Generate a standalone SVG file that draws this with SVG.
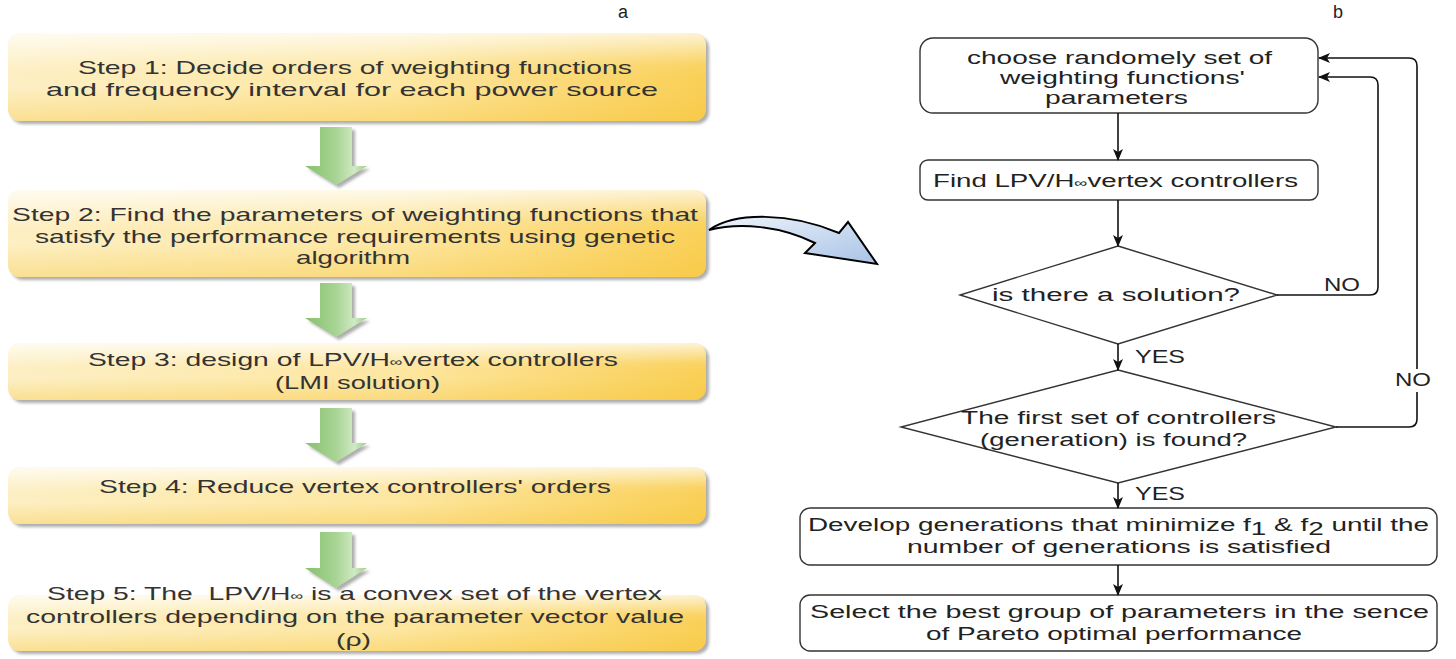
<svg xmlns="http://www.w3.org/2000/svg" width="1456" height="659" viewBox="0 0 1456 659">
<style>
.lt{font-family:"Liberation Sans",Arial,sans-serif;font-size:19px;fill:#333}
.rt{font-family:"Liberation Sans",Arial,sans-serif;font-size:18px;fill:#222}
.lbl{font-family:"Liberation Sans",Arial,sans-serif;font-size:18px;fill:#222}
.ybox{fill:url(#yg)}
.gloss{fill:url(#gl)}
.garrow{fill:url(#gg);filter:url(#sh)}
.rbox{fill:#fff;stroke:#333;stroke-width:1.4}
.conn{fill:none;stroke:#111;stroke-width:1.6}
</style>
<defs>
<linearGradient id="yg" x1="0" y1="0" x2="1" y2="0">
<stop offset="0" stop-color="#fdf0c6"/>
<stop offset="0.55" stop-color="#fde7a3"/>
<stop offset="1" stop-color="#f9cf55"/>
</linearGradient>
<linearGradient id="gl" x1="0" y1="0" x2="0" y2="1">
<stop offset="0" stop-color="#fff" stop-opacity="0.75"/>
<stop offset="0.35" stop-color="#fff" stop-opacity="0.1"/>
<stop offset="0.6" stop-color="#f6c235" stop-opacity="0"/>
<stop offset="1" stop-color="#f6c235" stop-opacity="0.35"/>
</linearGradient>
<linearGradient id="gg" x1="0" y1="0" x2="1" y2="0">
<stop offset="0" stop-color="#86c06c"/>
<stop offset="0.5" stop-color="#a8d494"/>
<stop offset="0.8" stop-color="#d0eac4"/>
<stop offset="1" stop-color="#9ccc85"/>
</linearGradient>
<linearGradient id="bg" x1="0" y1="0" x2="1" y2="1">
<stop offset="0" stop-color="#eef4fc"/>
<stop offset="1" stop-color="#a9c3e6"/>
</linearGradient>
<filter id="sh" x="-5%" y="-20%" width="115%" height="150%">
<feDropShadow dx="3" dy="3" stdDeviation="1.8" flood-color="#777" flood-opacity="0.6"/>
</filter>
<marker id="ah" markerWidth="12" markerHeight="10" refX="11" refY="5" orient="auto" markerUnits="userSpaceOnUse">
<path d="M0,0 L12,5 L0,10 L3,5 z" fill="#111"/>
</marker>
</defs>

<text class="lbl" x="623" y="18" text-anchor="middle">a</text>
<text class="lbl" x="1338" y="18" text-anchor="middle">b</text>

<g id="step1">
<rect class="ybox" x="8" y="33" width="698" height="88" rx="12" filter="url(#sh)"/>
<rect class="gloss" x="8" y="33" width="698" height="88" rx="12"/>
<text class="lt" x="78" y="74" textLength="554" lengthAdjust="spacingAndGlyphs">Step 1: Decide orders of weighting functions</text>
<text class="lt" x="46" y="96" textLength="612" lengthAdjust="spacingAndGlyphs">and frequency interval for each power source</text>
</g>
<g id="step2">
<rect class="ybox" x="8" y="190" width="698" height="87" rx="12" filter="url(#sh)"/>
<rect class="gloss" x="8" y="190" width="698" height="87" rx="12"/>
<text class="lt" x="12" y="221" textLength="686" lengthAdjust="spacingAndGlyphs">Step 2: Find the parameters of weighting functions that</text>
<text class="lt" x="35" y="243" textLength="640" lengthAdjust="spacingAndGlyphs">satisfy the performance requirements using genetic</text>
<text class="lt" x="296" y="264" textLength="114" lengthAdjust="spacingAndGlyphs">algorithm</text>
</g>
<g id="step3">
<rect class="ybox" x="8" y="343" width="698" height="57" rx="12" filter="url(#sh)"/>
<rect class="gloss" x="8" y="343" width="698" height="57" rx="12"/>
<text class="lt" x="88" y="366" textLength="530" lengthAdjust="spacingAndGlyphs">Step 3: design of LPV/H<tspan font-size="12">∞</tspan>vertex controllers</text>
<text class="lt" x="275" y="389" textLength="165" lengthAdjust="spacingAndGlyphs">(LMI solution)</text>
</g>
<g id="step4">
<rect class="ybox" x="8" y="467" width="698" height="57" rx="12" filter="url(#sh)"/>
<rect class="gloss" x="8" y="467" width="698" height="57" rx="12"/>
<text class="lt" x="99" y="493" textLength="512" lengthAdjust="spacingAndGlyphs">Step 4: Reduce vertex controllers' orders</text>
</g>
<g id="step5">
<rect class="ybox" x="8" y="595" width="698" height="56" rx="12" filter="url(#sh)"/>
<rect class="gloss" x="8" y="595" width="698" height="56" rx="12"/>
<text class="lt" x="47" y="600" textLength="615" lengthAdjust="spacingAndGlyphs">Step 5: The&#160; LPV/H<tspan font-size="12">∞</tspan> is a convex set of the vertex</text>
<text class="lt" x="26" y="623" textLength="658" lengthAdjust="spacingAndGlyphs">controllers depending on the parameter vector value</text>
<text class="lt" x="336" y="646" textLength="35" lengthAdjust="spacingAndGlyphs">(ρ)</text>
</g>

<g id="green-arrows">
<path class="garrow" d="M320,127 H352 V166 H367 L336,185 L305,166 H320 Z"/>
<path class="garrow" d="M320,283 H352 V318 H367 L336,337 L305,318 H320 Z"/>
<path class="garrow" d="M320,408 H352 V443 H367 L336,462 L305,443 H320 Z"/>
<path class="garrow" d="M320,532 H352 V568 H367 L336,588 L305,568 H320 Z"/>
</g>

<g id="big-arrow">
<path d="M709,230 C735,212 790,212 839,233 L848,222 L877,264 L805,253 L815,243 C780,226 740,222 709,230 Z" fill="url(#bg)" stroke="#000" stroke-width="2" stroke-linejoin="miter"/>
</g>

<g id="n-choose">
<rect class="rbox" x="920" y="38" width="398" height="75" rx="13"/>
<text class="rt" x="967" y="64" textLength="305" lengthAdjust="spacingAndGlyphs">choose randomely set of</text>
<text class="rt" x="1000" y="84" textLength="245" lengthAdjust="spacingAndGlyphs">weighting functions'</text>
<text class="rt" x="1045" y="104" textLength="143" lengthAdjust="spacingAndGlyphs">parameters</text>
</g>
<g id="n-find">
<rect class="rbox" x="920" y="160" width="398" height="40" rx="8"/>
<text class="rt" x="933" y="187" textLength="365" lengthAdjust="spacingAndGlyphs">Find LPV/H<tspan font-size="12">∞</tspan>vertex controllers</text>
</g>
<g id="n-solution">
<path class="rbox" d="M1118,246 L1277,295 L1118,344 L960,295 Z"/>
<text class="rt" x="992" y="301" textLength="248" lengthAdjust="spacingAndGlyphs">is there a solution?</text>
</g>
<g id="n-first">
<path class="rbox" d="M1118,370 L1336,427 L1118,483 L901,427 Z"/>
<text class="rt" x="961" y="424" textLength="315" lengthAdjust="spacingAndGlyphs">The first set of controllers</text>
<text class="rt" x="980" y="446" textLength="267" lengthAdjust="spacingAndGlyphs">(generation) is found?</text>
</g>
<g id="n-develop">
<rect class="rbox" x="800" y="508" width="637" height="57" rx="10"/>
<text class="rt" x="808" y="531" textLength="621" lengthAdjust="spacingAndGlyphs">Develop generations that minimize f<tspan dy="4">1</tspan><tspan dy="-4"> &amp; f</tspan><tspan dy="4">2</tspan><tspan dy="-4"> until the</tspan></text>
<text class="rt" x="907" y="553" textLength="424" lengthAdjust="spacingAndGlyphs">number of generations is satisfied</text>
</g>
<g id="n-select">
<rect class="rbox" x="800" y="595" width="637" height="56" rx="10"/>
<text class="rt" x="810" y="618" textLength="619" lengthAdjust="spacingAndGlyphs">Select the best group of parameters in the sence</text>
<text class="rt" x="926" y="640" textLength="376" lengthAdjust="spacingAndGlyphs">of Pareto optimal performance</text>
</g>

<g id="connectors">
<path class="conn" d="M1118,113 V160" marker-end="url(#ah)"/>
<path class="conn" d="M1118,200 V246" marker-end="url(#ah)"/>
<path class="conn" d="M1118,344 V370" marker-end="url(#ah)"/>
<path class="conn" d="M1118,483 V508" marker-end="url(#ah)"/>
<path class="conn" d="M1118,565 V595" marker-end="url(#ah)"/>
<path class="conn" d="M1277,295 H1370 Q1378,295 1378,287 V85 Q1378,77 1370,77 H1319" marker-end="url(#ah)"/>
<path class="conn" d="M1336,427 H1409 Q1417,427 1417,419 V66 Q1417,58 1409,58 H1319" marker-end="url(#ah)"/>
<text class="rt" x="1324" y="291" textLength="36" lengthAdjust="spacingAndGlyphs">NO</text>
<text class="rt" x="1135" y="363" textLength="50" lengthAdjust="spacingAndGlyphs">YES</text>
<rect x="1393" y="369" width="40" height="23" fill="#fff"/>
<text class="rt" x="1395" y="386" textLength="36" lengthAdjust="spacingAndGlyphs">NO</text>
<text class="rt" x="1135" y="500" textLength="50" lengthAdjust="spacingAndGlyphs">YES</text>
</g>
</svg>
